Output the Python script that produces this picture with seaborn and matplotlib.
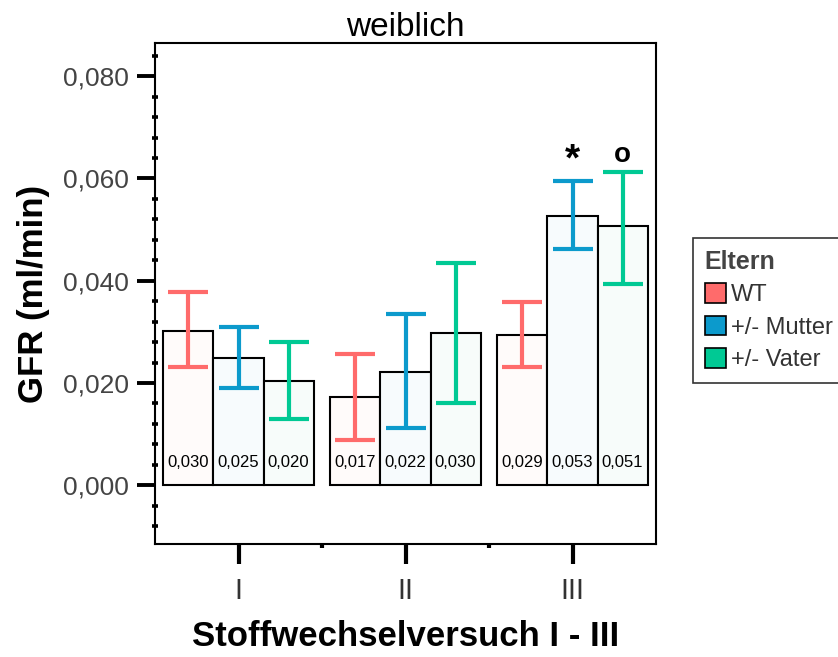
import matplotlib
matplotlib.use("Agg")
import matplotlib.pyplot as plt
import seaborn as sns
import pandas as pd
from matplotlib.patches import Patch
from matplotlib.ticker import MultipleLocator, FixedLocator, FuncFormatter

# ---------------- data ----------------
experiments = ["I", "II", "III"]
groups = ["WT", "+/- Mutter", "+/- Vater"]

mean_wt = [0.0301, 0.0173, 0.0293]
mean_mutter = [0.0249, 0.0221, 0.0527]
mean_vater = [0.0204, 0.0298, 0.0507]

low_wt = [0.0231, 0.0088, 0.0231]
high_wt = [0.0377, 0.0257, 0.0359]
low_mutter = [0.0190, 0.0112, 0.0462]
high_mutter = [0.0310, 0.0334, 0.0595]
low_vater = [0.0129, 0.0161, 0.0394]
high_vater = [0.0280, 0.0434, 0.0613]

marks = {("III", "+/- Mutter"): "*", ("III", "+/- Vater"): "o"}

line_colors = ["#FF6B6B", "#0C9ACC", "#00C994"]
fill_colors = ["#FFFBFA", "#F7FBFD", "#F7FCFA"]

means = [mean_wt, mean_mutter, mean_vater]
lows = [low_wt, low_mutter, low_vater]
highs = [high_wt, high_mutter, high_vater]

rows = []
for g, m in zip(groups, means):
    for e, v in zip(experiments, m):
        rows.append({"Versuch": e, "Eltern": g, "GFR": v})
df = pd.DataFrame(rows)

# ---------------- style ----------------
sns.set_style("ticks")
plt.rcParams["font.family"] = ["Liberation Sans", "DejaVu Sans"]

fig = plt.figure(figsize=(8.38, 6.57), dpi=100)
ax = fig.add_axes([155 / 838, 1 - 544 / 657, (656 - 155) / 838, (544 - 43) / 657])

sns.barplot(data=df, x="Versuch", y="GFR", hue="Eltern", order=experiments,
            hue_order=groups, palette=fill_colors, width=0.9, errorbar=None,
            edgecolor="black", linewidth=1.5, saturation=1, legend=False, ax=ax)

bar_containers = list(ax.containers)
for ci, cont in enumerate(bar_containers):
    g = groups[ci]
    for bi, bar in enumerate(cont.patches):
        xc = bar.get_x() + bar.get_width() / 2
        m = means[ci][bi]
        lo, hi = lows[ci][bi], highs[ci][bi]
        ax.errorbar([xc], [m], yerr=[[m - lo], [hi - m]], fmt="none",
                    ecolor=line_colors[ci], elinewidth=3, capsize=14.5,
                    capthick=3, zorder=5)
        label = f"{m:.3f}".replace(".", ",")
        ax.text(xc, 0.0045, label, ha="center", va="center", fontsize=12,
                color="black", zorder=6)
        key = (experiments[bi], g)
        if key in marks:
            sym = marks[key]
            if sym == "*":
                ax.text(xc, hi + 0.0040, "*", ha="center", va="center",
                        fontsize=28, fontweight="bold", color="black")
            else:
                ax.text(xc, hi + 0.0033, "o", ha="center", va="center",
                        fontsize=20, fontweight="bold", color="black")

ax.set_xlim(-0.5, 2.5)
ax.set_ylim(-0.0115, 0.0865)

ax.yaxis.set_major_locator(MultipleLocator(0.02))
ax.yaxis.set_minor_locator(MultipleLocator(0.004))
ax.yaxis.set_major_formatter(FuncFormatter(lambda v, p: f"{v:.3f}".replace(".", ",").replace("-", "")))
ax.xaxis.set_minor_locator(FixedLocator([0.5, 1.5]))

for s in ax.spines.values():
    s.set_visible(True)
    s.set_linewidth(1.5)
    s.set_color("black")

ax.tick_params(axis="y", which="major", direction="out", length=13, width=2.8,
               color="black", labelsize=19, labelcolor="#444444", pad=6)
ax.tick_params(axis="y", which="minor", direction="inout", length=5, width=2.6,
               color="black")
ax.tick_params(axis="x", which="major", direction="out", length=14.5, width=3,
               color="black", labelsize=21, labelcolor="#333333", pad=9)
ax.tick_params(axis="x", which="minor", direction="out", length=3, width=3,
               color="black")
for t in ax.get_xticklabels():
    t.set_fontweight("light")

ax.set_title("weiblich", fontsize=24, pad=5, color="black")
ax.set_xlabel("Stoffwechselversuch I - III", fontsize=25, fontweight="bold", color="black")
ax.set_ylabel("GFR (ml/min)", fontsize=25, fontweight="bold", color="black")
ax.xaxis.set_label_coords(0.5, -0.184)
ax.xaxis.label.set_va("center")
ax.yaxis.set_label_coords(-0.242, 0.5)
ax.yaxis.label.set_va("center")

handles = [Patch(facecolor=c, edgecolor="black", linewidth=1.2) for c in line_colors]
leg = fig.legend(handles, groups, title="Eltern", loc="upper left",
                 bbox_to_anchor=(693 / 838, 1 - 238 / 657), frameon=True,
                 fancybox=False, edgecolor="black", fontsize=17,
                 title_fontproperties={"weight": "bold", "size": 18},
                 handlelength=0.9, handleheight=0.9, handletextpad=0.2,
                 labelspacing=0.4, borderpad=0.5, alignment="left",
                 borderaxespad=0)
leg.get_frame().set_linewidth(1.2)
leg.get_title().set_color("#444444")
for t in leg.get_texts():
    t.set_color("#333333")

fig.savefig("out.png", dpi=100)
